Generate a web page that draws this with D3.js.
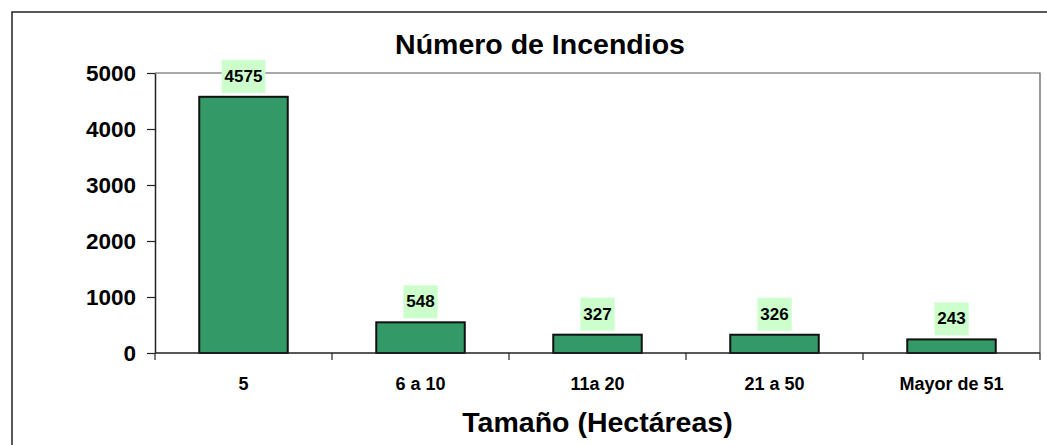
<!DOCTYPE html>
<html>
<head>
<meta charset="utf-8">
<script src="https://cdn.jsdelivr.net/npm/d3@7"></script>
<style>
  body { margin: 0; background: #fff; }
  svg { display: block; font-family: "Liberation Sans", Arial, sans-serif; font-weight: bold; }
</style>
</head>
<body>
<div id="chart"></div>
<script>
// data
const categories = ['5', '6 a 10', '11a 20', '21 a 50', 'Mayor de 51']
const values = [4575, 548, 327, 326, 243]
const yTicks = [0, 1000, 2000, 3000, 4000, 5000]

const width = 1047, height = 445
const margin = {top: 73, right: 7, bottom: 92, left: 155}
const plotWidth = width - margin.left - margin.right
const plotHeight = height - margin.top - margin.bottom

const svg = d3.select('#chart').append('svg')
    .attr('width', width)
    .attr('height', height)

// outer chart frame (runs off the right & bottom edge)
svg.append('rect')
    .attr('x', 12).attr('y', 12)
    .attr('width', 1200).attr('height', 600)
    .attr('fill', 'none')
    .attr('stroke', '#222')
    .attr('stroke-width', 1.5)

const x = d3.scaleBand()
    .domain(categories)
    .range([0, plotWidth])
    .paddingInner(0).paddingOuter(0)

const y = d3.scaleLinear()
    .domain([0, 5000])
    .range([plotHeight, 0])

const g = svg.append('g')
    .attr('transform', `translate(${margin.left}, ${margin.top})`)

// plot area frame: top and right in grey
g.append('path')
    .attr('d', `M0,0H${plotWidth}V${plotHeight}`)
    .attr('fill', 'none')
    .attr('stroke', '#555')
    .attr('stroke-width', 1.2)

// bars
g.selectAll('.bar').data(values)
  .enter().append('rect')
    .attr('class', 'bar')
    .attr('x', (d, i) => x(categories[i]) + x.bandwidth() * 0.25)
    .attr('width', x.bandwidth() * 0.5)
    .attr('y', d => y(d))
    .attr('height', d => plotHeight - y(d))
    .attr('fill', '#339966')
    .attr('stroke', '#111')
    .attr('stroke-width', 2)

// y axis
const yAxis = d3.axisLeft(y)
    .tickValues(yTicks)
    .tickFormat(d3.format('d'))
    .tickSize(8)
    .tickSizeOuter(0)
    .tickPadding(11)
g.append('g')
    .attr('class', 'yAxis')
    .call(yAxis)
    .call(s => s.select('.domain').attr('stroke', '#222').attr('stroke-width', 1.5))
    .call(s => s.selectAll('.tick line').attr('stroke', '#222').attr('stroke-width', 1.2))
    .call(s => s.selectAll('.tick text')
        .attr('font-size', 22.5)
        .attr('font-family', null)
        .attr('fill', '#000'))

// x axis: labels centered on the bands, ticks at band boundaries
const xAxis = d3.axisBottom(x).tickSize(0).tickPadding(24)
g.append('g')
    .attr('class', 'xAxis')
    .attr('transform', `translate(0, ${plotHeight})`)
    .call(xAxis)
    .call(s => s.select('.domain').remove())
    .call(s => s.selectAll('.tick text')
        .attr('font-size', 18)
        .attr('font-family', null)
        .attr('fill', '#000'))

const bounds = categories.map(c => x(c)).concat([plotWidth])
g.selectAll('.xTick').data(bounds)
  .enter().append('line')
    .attr('class', 'xTick')
    .attr('x1', d => d).attr('x2', d => d)
    .attr('y1', plotHeight).attr('y2', plotHeight + 7)
    .attr('stroke', '#222')
    .attr('stroke-width', 1.2)
g.append('line')
    .attr('x1', 0).attr('x2', plotWidth)
    .attr('y1', plotHeight).attr('y2', plotHeight)
    .attr('stroke', '#222')
    .attr('stroke-width', 1.5)

// data labels with pale green boxes
const labels = g.selectAll('.label').data(values)
  .enter().append('g')
    .attr('class', 'label')
    .attr('transform', (d, i) => `translate(${x(categories[i]) + x.bandwidth() / 2}, ${y(d) - 4})`)
labels.append('rect')
labels.append('text')
    .attr('text-anchor', 'middle')
    .attr('y', -11)
    .attr('font-size', 17)
    .attr('fill', '#000')
    .text(d => d)
labels.each(function () {
    const grp = d3.select(this)
    const w = grp.select('text').node().getComputedTextLength() + 6
    grp.select('rect')
        .attr('x', -w / 2).attr('y', -33)
        .attr('width', w).attr('height', 33)
        .attr('fill', '#ccffcc')
})

// titles
svg.append('text')
    .attr('x', 540).attr('y', 54)
    .attr('text-anchor', 'middle')
    .attr('font-size', 28.5)
    .text('Número de Incendios')

svg.append('text')
    .attr('x', margin.left + plotWidth / 2).attr('y', 432)
    .attr('text-anchor', 'middle')
    .attr('font-size', 28.5)
    .text('Tamaño (Hectáreas)')
</script>
</body>
</html>
